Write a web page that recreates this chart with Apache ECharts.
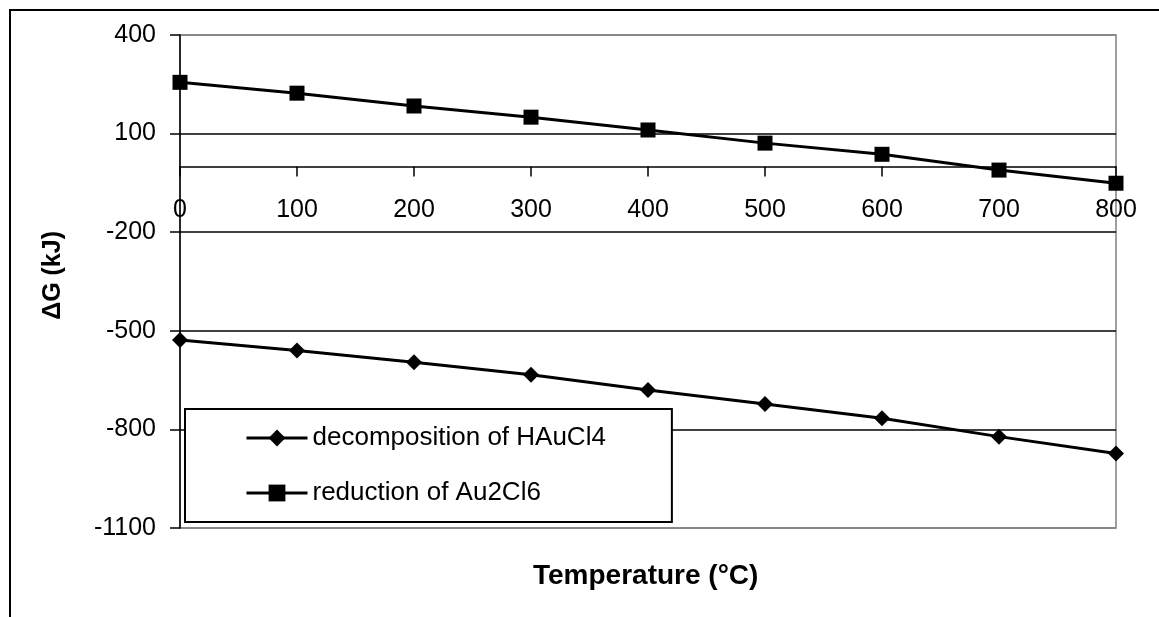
<!DOCTYPE html>
<html>
<head>
<meta charset="utf-8">
<script src="https://cdn.jsdelivr.net/npm/echarts@6/dist/echarts.min.js"></script>
<style>
  html, body { margin: 0; padding: 0; background: #fff; }
  #chart { width: 1159px; height: 617px; }
</style>
</head>
<body>
<div id="chart"></div>
<script>
// temperature (°C)
const temps = [0, 100, 200, 300, 400, 500, 600, 700, 800]
// ΔG (kJ)
const decompHAuCl4 = [-528, -560, -596, -634, -680, -723, -766, -822, -873]
const reductionAu2Cl6 = [256, 223, 184, 150, 111, 71, 37, -11, -51]
const seriesNames = ['decomposition of HAuCl4', 'reduction of Au2Cl6']

const font = 'Liberation Sans, Arial, sans-serif'
const pairs = (ys) => temps.map((t, i) => [t, ys[i]])

// x axis sits on y = 0, move it up from the bottom of the plot
const gridTop = 35, gridBottom = 89, yMin = -1100, yMax = 400
const plotH = 617 - gridTop - gridBottom
const zeroShift = plotH * (0 - yMin) / (yMax - yMin)

const chart = echarts.init(document.getElementById('chart'))
chart.setOption({
  animation: false,
  backgroundColor: '#fff',
  grid: {
    left: 180, right: 43, top: gridTop, bottom: gridBottom,
    outerBoundsMode: 'none', containLabel: false,
    show: true, borderColor: '#808080', borderWidth: 1.5
  },
  graphic: [{
    type: 'rect',
    shape: { x: 10, y: 10, width: 1200, height: 700 },
    style: { fill: 'none', stroke: '#000', lineWidth: 2 },
    silent: true
  }, {
    type: 'text',
    left: 41, top: 231,
    rotation: Math.PI / 2,
    style: { text: 'ΔG (kJ)', font: 'bold 25px ' + font, fill: '#000' }
  }, {
    type: 'text',
    left: 533, top: 562,
    style: { text: 'Temperature (°C)', font: 'bold 28px ' + font, fill: '#000' }
  }],
  legend: {
    orient: 'vertical',
    left: 185, top: 409,
    padding: [16, 66, 16, 60],
    itemGap: 29,
    itemWidth: 61, itemHeight: 21,
    backgroundColor: '#fff',
    borderColor: '#000', borderWidth: 2,
    lineStyle: { width: 3 },
    textStyle: { fontFamily: font, fontSize: 26, color: '#000' },
    data: seriesNames
  },
  xAxis: {
    type: 'value', min: 0, max: 800, interval: 100,
    offset: -zeroShift,
    axisLine: { onZero: false, lineStyle: { color: '#000', width: 1.5 } },
    axisTick: { length: 10, lineStyle: { color: '#000', width: 1.5 } },
    axisLabel: { margin: 31, fontFamily: font, fontSize: 25, color: '#000', formatter: (v) => String(v) },
    splitLine: { show: false }
  },
  yAxis: {
    type: 'value', min: yMin, max: yMax, interval: 300,
    axisLine: { show: true, lineStyle: { color: '#000', width: 1.5 } },
    axisTick: { show: true, length: 10, lineStyle: { color: '#000', width: 1.5 } },
    axisLabel: { margin: 24, fontFamily: font, fontSize: 25, color: '#000', formatter: (v) => String(v) },
    splitLine: {
      lineStyle: { color: ['#808080', '#000', '#000', '#000', '#000', '#808080'], width: 1.5 }
    }
  },
  series: [{
    name: seriesNames[0], type: 'line',
    data: pairs(decompHAuCl4),
    symbol: 'diamond', symbolSize: 16,
    lineStyle: { color: '#000', width: 3 },
    itemStyle: { color: '#000' }
  }, {
    name: seriesNames[1], type: 'line',
    data: pairs(reductionAu2Cl6),
    symbol: 'rect', symbolSize: 15,
    lineStyle: { color: '#000', width: 3 },
    itemStyle: { color: '#000' }
  }]
})
</script>
</body>
</html>
